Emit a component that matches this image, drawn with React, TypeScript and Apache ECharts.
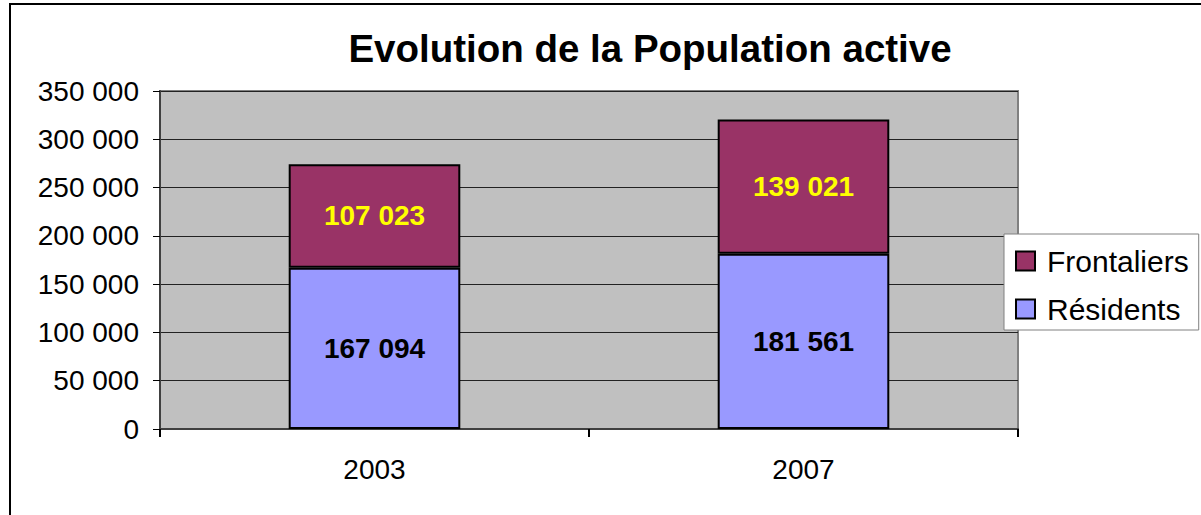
import React, { useEffect, useRef } from "react";
import * as echarts from "echarts";

const categories = ["2003", "2007"];
const residents = [167094, 181561];
const frontaliers = [107023, 139021];
const yTicks = { min: 0, max: 350000, interval: 50000 };
const titleText = "Evolution de la Population active";

const FONT = "'Liberation Sans', Arial, sans-serif";
const fmt = (n: number) => String(n).replace(/\B(?=(\d{3})+(?!\d))/g, " ");

export default function App() {
  const ref = useRef<HTMLDivElement>(null);
  useEffect(() => {
    document.body.style.margin = "0";
    const chart = echarts.init(ref.current!, undefined, { renderer: "svg" });
    chart.setOption({
      animation: false,
      backgroundColor: "#ffffff",
      textStyle: { fontFamily: FONT },
      graphic: [
        {
          type: "rect",
          shape: { x: 10, y: 4, width: 1200, height: 520 },
          style: { fill: "none", stroke: "#000", lineWidth: 2 },
          z: -10,
        },
        {
          type: "text",
          x: 650,
          y: 48,
          style: {
            text: titleText,
            fontFamily: FONT,
            fontSize: 38.5,
            fontWeight: "bold",
            fill: "#000",
            textAlign: "center",
            textVerticalAlign: "middle",
          },
        },
      ],
      grid: {
        left: 160,
        top: 91,
        right: 183,
        bottom: 86,
        show: true,
        backgroundColor: "#C0C0C0",
        borderColor: "#808080",
        borderWidth: 2,
      },
      legend: {
        orient: "vertical",
        left: 1004,
        top: 234,
        data: ["Frontaliers", "Résidents"],
        itemWidth: 19,
        itemHeight: 19,
        itemGap: 18,
        padding: [12, 10, 6, 11],
        backgroundColor: "#fff",
        borderColor: "#808080",
        borderWidth: 1,
        borderRadius: 0,
        textStyle: {
          fontFamily: FONT,
          fontSize: 30,
          color: "#000",
          padding: [0, 0, 0, 7],
        },
        icon: "rect",
      },
      xAxis: {
        type: "category",
        data: categories,
        boundaryGap: true,
        axisLine: { show: true, lineStyle: { color: "#404040", width: 2 } },
        axisTick: { show: true, alignWithLabel: false, length: 8, lineStyle: { color: "#000", width: 2 } },
        axisLabel: { fontFamily: FONT, fontSize: 28, color: "#000", margin: 26 },
        splitLine: { show: false },
      },
      yAxis: {
        type: "value",
        min: yTicks.min,
        max: yTicks.max,
        interval: yTicks.interval,
        axisLine: { show: true, lineStyle: { color: "#404040", width: 2 } },
        axisTick: { show: true, length: 7, lineStyle: { color: "#000", width: 1 } },
        axisLabel: { fontFamily: FONT, fontSize: 28, color: "#000", margin: 21, formatter: (v: number) => fmt(v) },
        splitLine: { show: true, lineStyle: { color: "#222", width: 1 } },
      },
      series: [
        {
          name: "Résidents",
          type: "bar",
          stack: "total",
          data: residents,
          barWidth: "40%",
          itemStyle: { color: "#9999FF", borderColor: "#000", borderWidth: 2 },
          label: {
            show: true,
            position: "inside",
            fontFamily: FONT,
            fontSize: 28,
            fontWeight: "bold",
            color: "#000",
            formatter: (p: any) => fmt(p.value),
          },
        },
        {
          name: "Frontaliers",
          type: "bar",
          stack: "total",
          data: frontaliers,
          barWidth: "40%",
          itemStyle: { color: "#993366", borderColor: "#000", borderWidth: 2 },
          label: {
            show: true,
            position: "inside",
            fontFamily: FONT,
            fontSize: 28,
            fontWeight: "bold",
            color: "#FFFF00",
            formatter: (p: any) => fmt(p.value),
          },
        },
      ],
    });
    return () => chart.dispose();
  }, []);
  return (
    <div
      ref={ref}
      style={{ position: "fixed", left: 0, top: 0, width: 1201, height: 515 }}
    />
  );
}
